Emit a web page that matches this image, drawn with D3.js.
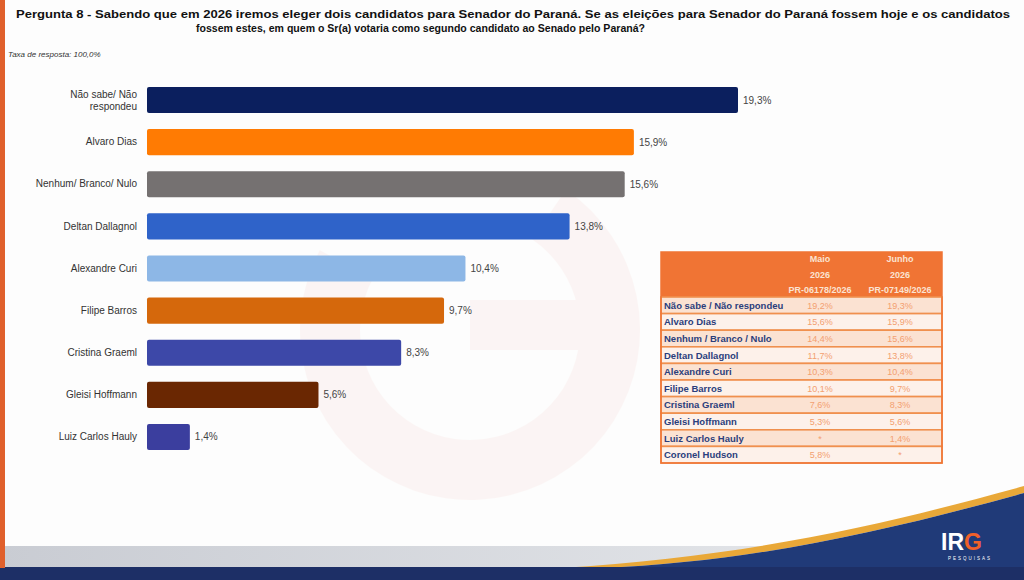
<!DOCTYPE html>
<html><head><meta charset="utf-8">
<script src="https://cdn.jsdelivr.net/npm/d3@7"></script>
<style>html,body{margin:0;padding:0;background:#fff;}svg{display:block;}</style>
</head><body>
<svg id="c" width="1024" height="580"></svg>
<script>
const categories = ["Não sabe/ Não respondeu","Alvaro Dias","Nenhum/ Branco/ Nulo","Deltan Dallagnol","Alexandre Curi","Filipe Barros","Cristina Graeml","Gleisi Hoffmann","Luiz Carlos Hauly"];
const values = [19.3,15.9,15.6,13.8,10.4,9.7,8.3,5.6,1.4];
const barColors = ["#0b1f5e","#ff7b03","#757171","#2f63c9","#8db7e6","#d5680c","#3d48a8","#6a2702","#3b3e9e"];
const tableNames = ["Não sabe / Não respondeu","Alvaro Dias","Nenhum / Branco / Nulo","Deltan Dallagnol","Alexandre Curi","Filipe Barros","Cristina Graeml","Gleisi Hoffmann","Luiz Carlos Hauly","Coronel Hudson"];
const maio = ["19,2%","15,6%","14,4%","11,7%","10,3%","10,1%","7,6%","5,3%","*","5,8%"];
const junho = ["19,3%","15,9%","15,6%","13,8%","10,4%","9,7%","8,3%","5,6%","1,4%","*"];
const headers = [["Maio","2026","PR-06178/2026"],["Junho","2026","PR-07149/2026"]];

const svg = d3.select("#c");
const font = "'Liberation Sans', Arial, sans-serif";
const narrow = "'Liberation Sans Narrow','Liberation Sans', Arial, sans-serif";

// background
svg.append("rect").attr("width",1024).attr("height",580).attr("fill","#fdfdfd");
// watermark
const wm = svg.append("g").attr("opacity",0.035);
wm.append("path").attr("d",d3.arc()({innerRadius:110,outerRadius:170,startAngle:0.6,endAngle:5.2})).attr("transform","translate(470,330)").attr("fill","#e0301e");
wm.append("rect").attr("x",470).attr("y",300).attr("width",160).attr("height",50).attr("fill","#e0301e");

// bottom decoration
const defs = svg.append("defs");
const g1 = defs.append("linearGradient").attr("id","gray").attr("x1",0).attr("x2",1);
g1.append("stop").attr("offset",0).attr("stop-color","#c9ccd3");
g1.append("stop").attr("offset",1).attr("stop-color","#e9ebee");
svg.append("rect").attr("x",0).attr("y",546).attr("width",1024).attr("height",22).attr("fill","url(#gray)");
svg.append("path").attr("d","M560,568 C760,556 900,520 1024,486 L1024,493 C900,527 760,562 600,568 Z").attr("fill","#e9a838");
svg.append("path").attr("d","M600,568 C760,562 900,527 1024,493 L1024,580 L600,580 Z").attr("fill","#203a78");
svg.append("rect").attr("x",0).attr("y",567).attr("width",1024).attr("height",13).attr("fill","#1d2f66");
// left stripe
svg.append("rect").attr("x",0).attr("y",0).attr("width",5).attr("height",568).attr("fill","#e0602c");

// logo
const logo = svg.append("g");
logo.append("text").attr("x",941).attr("y",550).attr("font-family",font).attr("font-weight","bold").attr("font-size",23).attr("fill","#fff").text("IR")
  .append("tspan").attr("fill","#f0602a").text("G");
logo.append("text").attr("x",970).attr("y",560).attr("text-anchor","middle").attr("font-family",font).attr("font-size",4.5).attr("letter-spacing",2).attr("fill","#fff").text("PESQUISAS");

// title
svg.append("text").attr("x",16).attr("y",18).attr("font-family",font).attr("font-weight","bold").attr("font-size",11).attr("fill","#111")
  .attr("textLength",994).attr("lengthAdjust","spacingAndGlyphs")
  .text("Pergunta 8 - Sabendo que em 2026 iremos eleger dois candidatos para Senador do Paraná. Se as eleições para Senador do Paraná fossem hoje e os candidatos");
svg.append("text").attr("x",196).attr("y",32).attr("font-family",font).attr("font-weight","bold").attr("font-size",11).attr("fill","#111")
  .attr("textLength",449).attr("lengthAdjust","spacingAndGlyphs")
  .text("fossem estes, em quem o Sr(a) votaria como segundo candidato ao Senado pelo Paraná?");
svg.append("text").attr("x",8).attr("y",57).attr("font-family",font).attr("font-style","italic").attr("font-size",8).attr("fill","#333").text("Taxa de resposta: 100,0%");

// bars
const x = d3.scaleLinear().domain([0,19.3]).range([147,738]);
const y = d3.scaleBand().domain(categories).range([79,458]).paddingInner(0.38).paddingOuter(0.19);
const bars = svg.append("g");
bars.selectAll("rect").data(categories).join("rect")
  .attr("x",x(0)).attr("y",d=>y(d)).attr("height",y.bandwidth())
  .attr("width",(d,i)=>x(values[i])-x(0)).attr("rx",2).attr("fill",(d,i)=>barColors[i]);
bars.selectAll("text.v").data(categories).join("text").attr("class","v")
  .attr("x",(d,i)=>x(values[i])+5).attr("y",d=>y(d)+y.bandwidth()/2+3.5)
  .attr("font-family",font).attr("font-size",10).attr("fill","#444")
  .text((d,i)=>values[i].toFixed(1).replace(".",",")+"%");
const yAxis = d3.axisLeft(y).tickSize(0).tickPadding(0);
const ag = svg.append("g").attr("transform","translate(137,0)").call(yAxis);
ag.select(".domain").remove();
ag.selectAll("text").attr("font-family",font).attr("font-size",10).attr("fill","#333");
ag.selectAll(".tick text").each(function(d){
  if(d==="Não sabe/ Não respondeu"){
    const t=d3.select(this); t.text(null);
    t.append("tspan").attr("x",0).attr("dy","-0.25em").text("Não sabe/ Não");
    t.append("tspan").attr("x",0).attr("dy","1.25em").text("respondeu");
  }
});

// table
const tx0=661, tx1=782, tx2=858, tx3=942;
const tyTop=252, tyHead=297, rowH=16.6;
const tbl = svg.append("g");
tbl.append("rect").attr("x",tx0).attr("y",tyTop).attr("width",tx3-tx0).attr("height",tyHead-tyTop).attr("fill","#f07434");
const colsX=[(tx1+tx2)/2,(tx2+tx3)/2];
headers.forEach((h,ci)=>{
  h.forEach((s,li)=>{
    tbl.append("text").attr("x",colsX[ci]).attr("y",tyTop+10+li*15.5).attr("text-anchor","middle")
      .attr("font-family",narrow).attr("font-weight","bold").attr("font-size",9).attr("fill","#fbe3d2").text(s);
  });
});
const ry = d3.scaleBand().domain(d3.range(tableNames.length)).range([tyHead,tyHead+rowH*tableNames.length]);
const rows = tbl.selectAll("g.r").data(tableNames).join("g").attr("class","r");
rows.append("rect").attr("x",tx0).attr("y",(d,i)=>ry(i)).attr("width",tx3-tx0).attr("height",rowH)
  .attr("fill",(d,i)=>i%2?"#fdf1ea":"#fbe2d2").attr("stroke","#f0904e").attr("stroke-width",1.6);
rows.append("text").attr("x",tx0+3).attr("y",(d,i)=>ry(i)+rowH/2+3.5)
  .attr("font-family",narrow).attr("font-weight","bold").attr("font-size",9.5).attr("fill","#2b3e7c").text(d=>d);
rows.append("text").attr("x",colsX[0]).attr("y",(d,i)=>ry(i)+rowH/2+3.5).attr("text-anchor","middle")
  .attr("font-family",font).attr("font-size",9).attr("fill","#f3a070").text((d,i)=>maio[i]);
rows.append("text").attr("x",colsX[1]).attr("y",(d,i)=>ry(i)+rowH/2+3.5).attr("text-anchor","middle")
  .attr("font-family",font).attr("font-size",9).attr("fill","#f3a070").text((d,i)=>junho[i]);
tbl.append("rect").attr("x",tx0).attr("y",tyTop).attr("width",tx3-tx0).attr("height",tyHead+rowH*tableNames.length-tyTop)
  .attr("fill","none").attr("stroke","#f07434").attr("stroke-width",1.5);
</script>
</body></html>
